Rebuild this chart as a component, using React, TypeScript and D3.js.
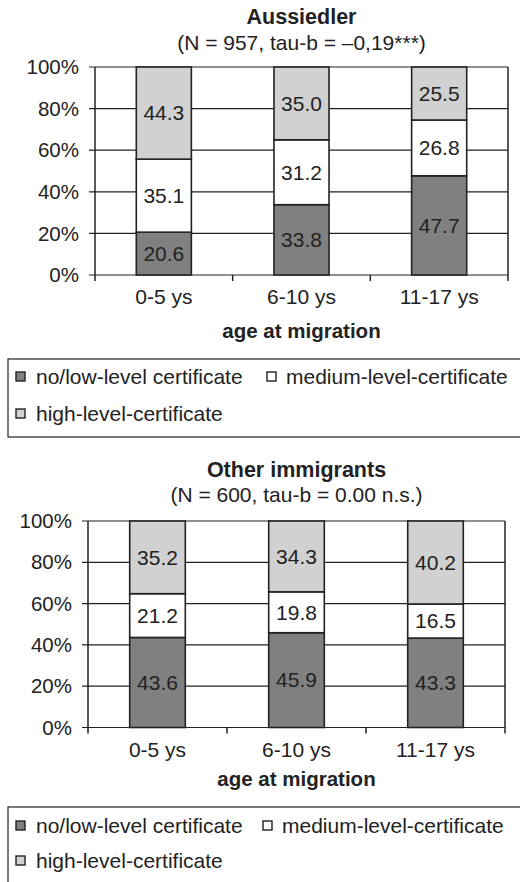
import React from 'react';
import * as d3 from 'd3';

const categories = ['0-5 ys', '6-10 ys', '11-17 ys'];
const seriesNames = ['no/low-level certificate', 'medium-level-certificate', 'high-level-certificate'];
const yTicks = [0, 20, 40, 60, 80, 100];

const aussLow = [20.6, 33.8, 47.7];
const aussMed = [35.1, 31.2, 26.8];
const aussHigh = [44.3, 35.0, 25.5];

const otherLow = [43.6, 45.9, 43.3];
const otherMed = [21.2, 19.8, 16.5];
const otherHigh = [35.2, 34.3, 40.2];

const colors = ['#808080', '#ffffff', '#d0d1d0'];
const FONT = '"Liberation Sans", Arial, sans-serif';
const INK = '#222';
const FS = 21;

type PanelProps = {
  title: string;
  subtitle: string;
  low: number[];
  med: number[];
  high: number[];
  x0: number; x1: number; yTop: number; yBot: number;
  titleY: number; subY: number; tickRight: number; xLabelY: number; axisTitleY: number;
  legTop: number; legH: number; row1: number; row2: number; sq2x: number; txt2x: number;
};

function Panel(p: PanelProps) {
  const x = d3.scaleBand<string>().domain(categories).range([p.x0, p.x1]).paddingInner(0.6).paddingOuter(0.3);
  const y = d3.scaleLinear().domain([0, 100]).range([p.yBot, p.yTop]);
  const rows = categories.map((c, i) => ({ cat: c, low: p.low[i], med: p.med[i], high: p.high[i] }));
  const stack = d3.stack<any>().keys(['low', 'med', 'high'])(rows);
  const step = x.step();
  const cx = (p.x0 + p.x1) / 2;
  const boundaries = d3.range(categories.length + 1).map(i => p.x0 + i * step);
  return (
    <g fontFamily={FONT} fill={INK}>
      <text x={cx} y={p.titleY} textAnchor="middle" fontWeight="bold" fontSize={21.5}>{p.title}</text>
      <text x={cx} y={p.subY} textAnchor="middle" fontSize={FS}>{p.subtitle}</text>
      {yTicks.map(t => (
        <g key={t}>
          <line x1={p.x0 - 6} x2={p.x1} y1={y(t)} y2={y(t)} stroke={INK} strokeWidth={1.2} />
          <text x={p.tickRight} y={y(t)} dy="0.35em" textAnchor="end" fontSize={20.5}>{t}%</text>
        </g>
      ))}
      <line x1={p.x0} x2={p.x0} y1={p.yTop} y2={p.yBot} stroke={INK} strokeWidth={1.5} />
      <line x1={p.x1} x2={p.x1} y1={p.yTop} y2={p.yBot} stroke={INK} strokeWidth={1.5} />
      {boundaries.map((b, i) => (
        <line key={i} x1={b} x2={b} y1={p.yBot} y2={p.yBot + 6} stroke={INK} strokeWidth={1.5} />
      ))}
      {stack.map((s, si) => s.map((d, di) => (
        <g key={si + '-' + di}>
          <rect x={x(categories[di])!} width={x.bandwidth()} y={y(d[1])} height={y(d[0]) - y(d[1])}
            fill={colors[si]} stroke={INK} strokeWidth={1.6} />
          <text x={x(categories[di])! + x.bandwidth() / 2} y={(y(d[0]) + y(d[1])) / 2} dy="0.35em"
            textAnchor="middle" fontSize={FS}>{(d[1] - d[0]).toFixed(1)}</text>
        </g>
      )))}
      {categories.map(c => (
        <text key={c} x={x(c)! + x.bandwidth() / 2} y={p.xLabelY} textAnchor="middle" fontSize={FS}>{c}</text>
      ))}
      <text x={cx} y={p.axisTitleY} textAnchor="middle" fontWeight="bold" fontSize={20.5}>age at migration</text>
      <rect x={8} y={p.legTop} width={530} height={p.legH} fill="none" stroke={INK} strokeWidth={1.2} />
      {[
        { sx: 16, tx: 36, by: p.row1, si: 0 },
        { sx: p.sq2x, tx: p.txt2x, by: p.row1, si: 1 },
        { sx: 16, tx: 36, by: p.row2, si: 2 },
      ].map(l => (
        <g key={l.si}>
          <rect x={l.sx} y={l.by - 12} width={9} height={9} fill={colors[l.si]} stroke={INK} strokeWidth={1.4} />
          <text x={l.tx} y={l.by} fontSize={FS}>{seriesNames[l.si]}</text>
        </g>
      ))}
    </g>
  );
}

export default function App() {
  return (
    <svg width={520} height={882} style={{ position: 'absolute', left: 0, top: 0, background: '#fff' }}>
      <rect width={520} height={882} fill="#fff" />
      <Panel title="Aussiedler" subtitle="(N = 957, tau-b = –0,19***)"
        low={aussLow} med={aussMed} high={aussHigh}
        x0={95} x1={508} yTop={67} yBot={275}
        titleY={24} subY={50} tickRight={79} xLabelY={304} axisTitleY={338}
        legTop={359} legH={78} row1={384} row2={421} sq2x={267} txt2x={286} />
      <Panel title="Other immigrants" subtitle="(N = 600, tau-b = 0.00 n.s.)"
        low={otherLow} med={otherMed} high={otherHigh}
        x0={88} x1={505} yTop={521} yBot={727.5}
        titleY={477} subY={502} tickRight={72} xLabelY={757} axisTitleY={786}
        legTop={807} legH={100} row1={833} row2={868} sq2x={263} txt2x={282} />
    </svg>
  );
}
